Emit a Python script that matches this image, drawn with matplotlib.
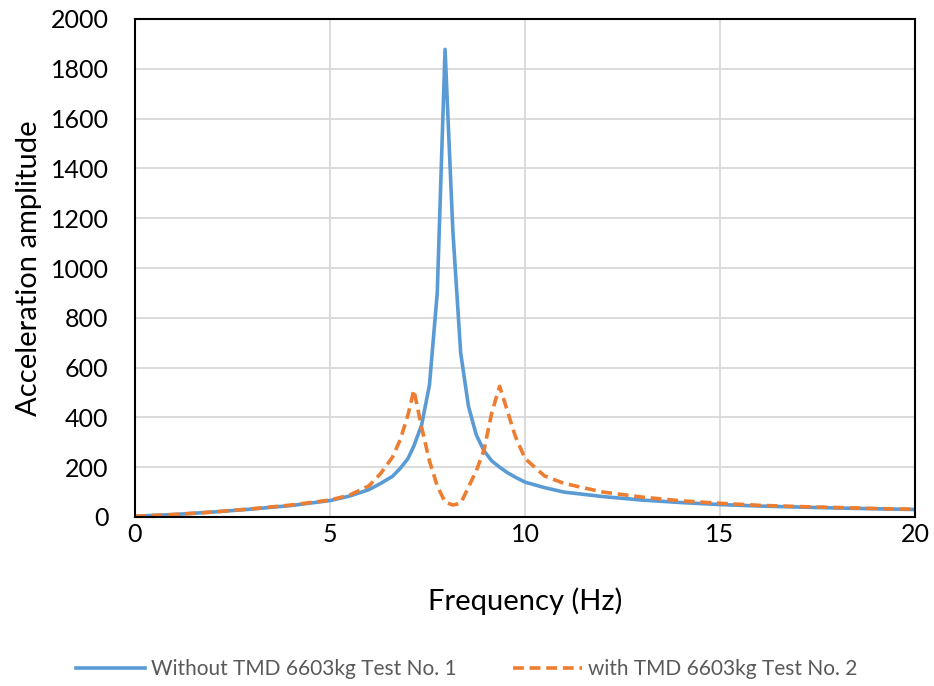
import matplotlib.pyplot as plt

# Data
freq = [0, 1, 2, 3, 4, 5, 5.5, 6, 6.3, 6.6, 6.8, 7.0, 7.15, 7.35, 7.55, 7.75,
        7.95, 8.15, 8.35, 8.55, 8.75, 8.95, 9.15, 9.35, 9.55, 9.75, 10.0,
        10.5, 11, 12, 13, 14, 15, 16, 17, 18, 19, 20]

without_tmd = [3, 10, 20, 32, 46, 66, 84, 110, 135, 163, 195, 235, 285, 370,
               530, 900, 1878, 1150, 660, 445, 330, 265, 225, 200, 178, 160,
               140, 118, 100, 82, 68, 58, 50, 44, 40, 36, 33, 30]

with_tmd = [3, 10, 20, 33, 48, 68, 88, 125, 175, 240, 310, 410, 510, 360,
            225, 125, 60, 48, 55, 120, 185, 270, 420, 525, 425, 325, 235,
            165, 135, 100, 80, 65, 55, 47, 42, 38, 34, 31]

label_1 = 'Without TMD 6603kg Test No. 1'
label_2 = 'with TMD 6603kg Test No. 2'

plt.rcParams['font.family'] = ['Lato', 'DejaVu Sans']

fig = plt.figure(figsize=(9.34, 6.86), dpi=100)
ax = fig.add_axes([135 / 934, 1 - 517 / 686, 780 / 934, 498 / 686])

ax.plot(freq, without_tmd, color='#5B9BD5', lw=2.6, label=label_1)
ax.plot(freq, with_tmd, color='#ED7D31', lw=2.6, ls=(0, (3, 1.6)), label=label_2)

ax.set_xlim(0, 20)
ax.set_ylim(0, 2000)
ax.set_xticks([0, 5, 10, 15, 20])
ax.set_yticks(range(0, 2001, 200))
ax.grid(color='#D9D9D9', lw=1.3)
ax.set_axisbelow(True)
for s in ax.spines.values():
    s.set_color('black')
    s.set_linewidth(1.5)
ax.tick_params(length=0, labelsize=18, colors='black')
ax.tick_params(axis='x', pad=4)
ax.tick_params(axis='y', pad=19)

ax.set_xlabel('Frequency (Hz)', fontsize=21, labelpad=30)
ax.set_ylabel('Acceleration amplitude', fontsize=21, labelpad=6)

leg = fig.legend(loc='center', bbox_to_anchor=(0.5, 1 - 669 / 686), ncol=2,
                 frameon=False, fontsize=15, handlelength=3.3,
                 columnspacing=2.7, handletextpad=0.3)
for t in leg.get_texts():
    t.set_color('#595959')

fig.savefig('out.png', dpi=100)
